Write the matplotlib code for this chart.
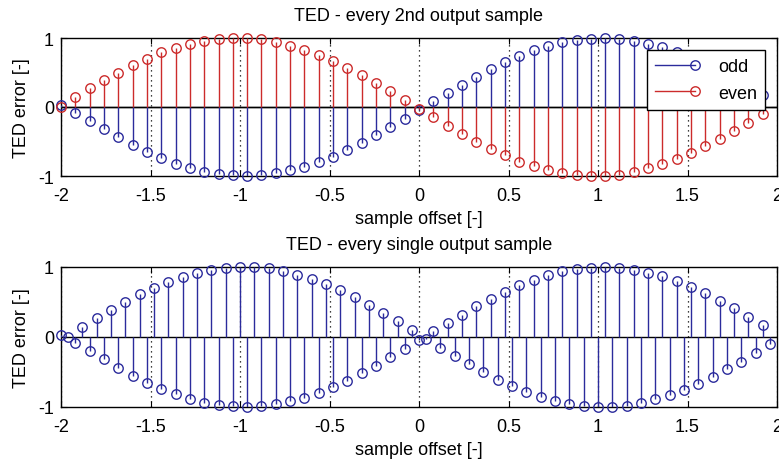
import numpy as np
import matplotlib
matplotlib.use("Agg")
import matplotlib.pyplot as plt
from matplotlib.lines import Line2D
from matplotlib.legend_handler import HandlerLine2D

# ---- data ----
offsets_top = np.round(np.arange(-2.0, 1.96, 0.08), 2)          # 50 samples
odd_vals = [0.03, -0.08, -0.20, -0.32, -0.44, -0.55, -0.65, -0.74, -0.82, -0.88,
            -0.94, -0.97, -0.99, -1.00, -0.99, -0.96, -0.92, -0.87, -0.80, -0.72,
            -0.63, -0.52, -0.41, -0.29, -0.17,
            -0.04, 0.08, 0.20, 0.32, 0.44, 0.55, 0.65, 0.74, 0.82, 0.88,
            0.94, 0.97, 0.99, 1.00, 0.99, 0.96, 0.92, 0.87, 0.80, 0.72,
            0.63, 0.52, 0.41, 0.29, 0.17]
even_vals = [0.00, 0.15, 0.27, 0.39, 0.50, 0.61, 0.70, 0.79, 0.86, 0.91,
             0.96, 0.99, 1.00, 1.00, 0.98, 0.94, 0.89, 0.83, 0.76, 0.67,
             0.57, 0.46, 0.35, 0.23, 0.10,
             -0.03, -0.15, -0.27, -0.39, -0.50, -0.61, -0.70, -0.79, -0.86, -0.91,
             -0.96, -0.99, -1.00, -1.00, -0.98, -0.94, -0.89, -0.83, -0.76, -0.67,
             -0.57, -0.46, -0.35, -0.23, -0.10]

offsets_bottom = np.round(np.arange(-2.0, 1.98, 0.04), 2)       # 100 samples
single_vals = [0.03, 0.00, -0.08, 0.15, -0.20, 0.27, -0.32, 0.39, -0.44, 0.50,
               -0.55, 0.61, -0.65, 0.70, -0.74, 0.79, -0.82, 0.86, -0.88, 0.91,
               -0.94, 0.96, -0.97, 0.99, -0.99, 1.00, -1.00, 1.00, -0.99, 0.98,
               -0.96, 0.94, -0.92, 0.89, -0.87, 0.83, -0.80, 0.76, -0.72, 0.67,
               -0.63, 0.57, -0.52, 0.46, -0.41, 0.35, -0.29, 0.23, -0.17, 0.10,
               -0.04, -0.03, 0.08, -0.15, 0.20, -0.27, 0.32, -0.39, 0.44, -0.50,
               0.55, -0.61, 0.65, -0.70, 0.74, -0.79, 0.82, -0.86, 0.88, -0.91,
               0.94, -0.96, 0.97, -0.99, 0.99, -1.00, 1.00, -1.00, 0.99, -0.98,
               0.96, -0.94, 0.92, -0.89, 0.87, -0.83, 0.80, -0.76, 0.72, -0.67,
               0.63, -0.57, 0.52, -0.46, 0.41, -0.35, 0.29, -0.23, 0.17, -0.10]

xticks = [-2, -1.5, -1, -0.5, 0, 0.5, 1, 1.5, 2]
xticklabels = ["-2", "-1.5", "-1", "-0.5", "0", "0.5", "1", "1.5", "2"]
yticks = [-1, 0, 1]
yticklabels = ["-1", "0", "1"]

BLUE = "#2b2b9c"
RED = "#cc2b2b"
FONT = ["Liberation Sans", "DejaVu Sans"]
FS = 13

plt.rcParams["font.family"] = FONT

fig = plt.figure(figsize=(7.79, 4.64), dpi=100)
ax1 = fig.add_axes([61 / 779, 1 - 177 / 464, 716 / 779, 138 / 464])
ax2 = fig.add_axes([61 / 779, 1 - 408 / 464, 716 / 779, 140 / 464])


def stem(ax, x, y, color):
    ml, sl, bl = ax.stem(x, y, basefmt="k-")
    plt.setp(ml, marker="o", markersize=6.8, markerfacecolor="none",
             markeredgecolor=color, markeredgewidth=1.0, clip_on=False, zorder=4)
    plt.setp(sl, color=color, linewidth=1.0, zorder=3)
    plt.setp(bl, color="black", linewidth=1.0, zorder=2)
    bl.set_xdata([-2, 2])
    return ml


def style(ax, title):
    ax.set_xlim(-2, 2)
    ax.set_ylim(-1, 1)
    ax.set_xticks(xticks)
    ax.set_xticklabels(xticklabels, fontsize=FS)
    ax.set_yticks(yticks)
    ax.set_yticklabels(yticklabels, fontsize=FS)
    ax.tick_params(direction="in", length=4, width=0.8, top=True, right=True,
                   colors="black")
    ax.tick_params(axis="x", pad=8)
    ax.tick_params(axis="y", pad=5)
    ax.xaxis.grid(True, linestyle=(0, (1, 3)), color="black", linewidth=0.9)
    ax.set_axisbelow(True)
    for s in ax.spines.values():
        s.set_linewidth(1.0)
    ax.set_title(title, fontsize=FS, pad=13)
    ax.set_xlabel("sample offset [-]", fontsize=FS, labelpad=4)
    ax.set_ylabel("TED error [-]", fontsize=FS, labelpad=6)


stem(ax1, offsets_top, odd_vals, BLUE)
stem(ax1, offsets_top, even_vals, RED)
style(ax1, "TED - every 2nd output sample")

stem(ax2, offsets_bottom, single_vals, BLUE)
style(ax2, "TED - every single output sample")


class StemLegendHandler(HandlerLine2D):
    def create_artists(self, legend, orig_handle, xdescent, ydescent, width,
                       height, fontsize, trans):
        y = (height - ydescent) / 2.0
        c = orig_handle.get_color()
        line = Line2D([-xdescent, width - xdescent], [y, y], color=c, lw=1.0)
        mk = Line2D([width - xdescent], [y], marker="o", markersize=6.8,
                    markerfacecolor="none", markeredgecolor=c, lw=0)
        line.set_transform(trans)
        mk.set_transform(trans)
        return [line, mk]


h_odd = Line2D([], [], color=BLUE)
h_even = Line2D([], [], color=RED)
leg = ax1.legend([h_odd, h_even], ["odd", "even"], loc="upper right",
                 fontsize=FS, frameon=True, fancybox=False, framealpha=1,
                 edgecolor="black", handlelength=2.2, handletextpad=1.3,
                 borderpad=0.45, labelspacing=0.55, borderaxespad=0.65,
                 handler_map={Line2D: StemLegendHandler()})
leg.get_frame().set_linewidth(1.0)
leg.set_zorder(10)

fig.savefig("out.png", dpi=100)
